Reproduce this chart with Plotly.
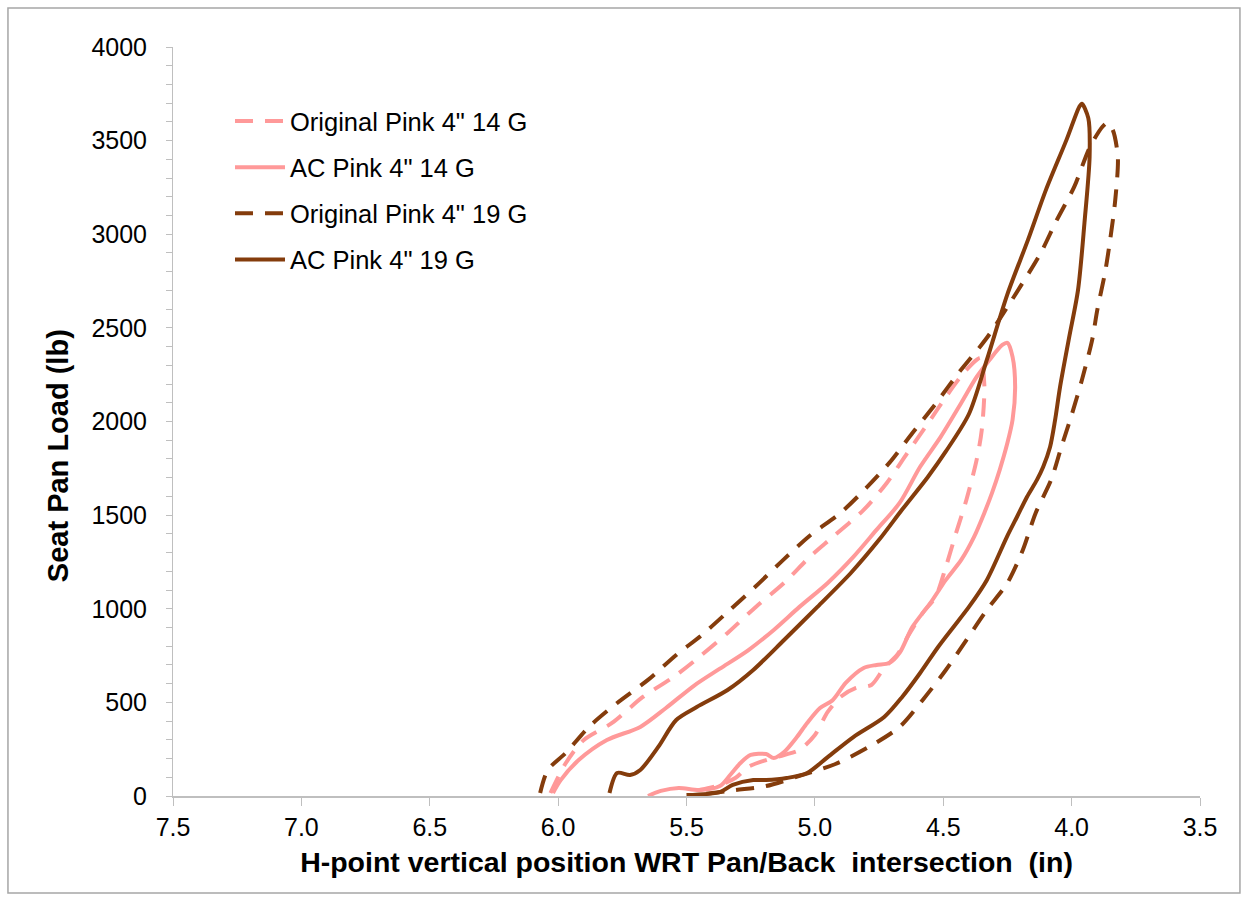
import plotly.graph_objects as go

# ---------------- data ----------------
orig14_x = [6.03, 5.97, 5.90, 5.79, 5.67, 5.55, 5.45, 5.34, 5.23, 5.12, 5.02, 4.93, 4.81, 4.72,
            4.64, 4.55, 4.49, 4.42, 4.37, 4.355, 4.34, 4.35, 4.37, 4.41, 4.45, 4.49, 4.53, 4.58,
            4.63, 4.68, 4.73, 4.78, 4.84, 4.90, 4.95, 5.00, 5.06, 5.12, 5.19, 5.26, 5.31, 5.37, 5.45]
orig14_y = [16, 176, 299, 390, 529, 636, 743, 871, 1010, 1138, 1277, 1384, 1528, 1672,
            1832, 2009, 2131, 2260, 2329, 2340, 2196, 1955, 1795, 1581, 1405, 1223, 1063, 978,
            871, 753, 684, 593, 577, 529, 449, 326, 246, 219, 192, 155, 96, 59, 32]

ac14_x = [6.02, 5.99, 5.92, 5.81, 5.68, 5.58, 5.47, 5.37, 5.26, 5.16, 5.06, 4.95, 4.85, 4.76,
          4.67, 4.59, 4.51, 4.43, 4.37, 4.32, 4.27, 4.25, 4.23, 4.22, 4.23, 4.25, 4.28, 4.31,
          4.34, 4.38, 4.43, 4.49, 4.55, 4.62, 4.67, 4.71, 4.76, 4.81, 4.88, 4.93, 4.98, 5.03,
          5.07, 5.12, 5.16, 5.19, 5.25, 5.29, 5.33, 5.37, 5.45, 5.53, 5.60, 5.65]
ac14_y = [16, 85, 192, 299, 369, 470, 590, 680, 778, 887, 1010, 1138, 1277, 1421,
          1565, 1758, 1918, 2099, 2238, 2329, 2409, 2420, 2345, 2185, 2009, 1886, 1742, 1619,
          1512, 1384, 1261, 1154, 1031, 903, 764, 710, 700, 684, 604, 513, 470, 390,
          315, 235, 203, 224, 219, 176, 112, 53, 32, 43, 27, 0]

orig19_x = [6.07, 6.04, 5.97, 5.88, 5.77, 5.65, 5.54, 5.44, 5.33, 5.23, 5.12, 5.02, 4.90, 4.80,
            4.71, 4.62, 4.53, 4.44, 4.33, 4.20, 4.12, 4.06, 3.99, 3.93, 3.88, 3.86, 3.84, 3.82,
            3.83, 3.85, 3.87, 3.90, 3.92, 3.96, 4.00, 4.04, 4.08, 4.14, 4.19, 4.25, 4.33, 4.41,
            4.49, 4.58, 4.67, 4.79, 4.92, 5.06, 5.19, 5.31, 5.43]
orig19_y = [16, 139, 230, 369, 497, 620, 753, 860, 995, 1120, 1265, 1390, 1512, 1645,
            1779, 1939, 2094, 2260, 2447, 2720, 2901, 3070, 3253, 3462, 3574, 3595, 3558, 3414,
            3184, 2970, 2794, 2596, 2436, 2222, 2035, 1864, 1688, 1512, 1314, 1138, 994, 833,
            673, 513, 369, 262, 171, 107, 53, 32, 11]

ac19_x = [5.80, 5.77, 5.72, 5.68, 5.61, 5.54, 5.46, 5.34, 5.24, 5.12, 4.99, 4.86, 4.75, 4.66,
          4.56, 4.49, 4.40, 4.33, 4.25, 4.17, 4.10, 4.02, 3.97, 3.96, 3.935, 3.93, 3.95, 3.975,
          4.01, 4.045, 4.065, 4.084, 4.111, 4.135, 4.174, 4.213, 4.252, 4.33, 4.40, 4.46, 4.52,
          4.59, 4.66, 4.73, 4.85, 4.95, 5.03, 5.11, 5.19, 5.24, 5.32, 5.37, 5.50]
ac19_y = [16, 123, 112, 139, 262, 406, 475, 566, 673, 833, 1010, 1191, 1368, 1530,
          1704, 1840, 2040, 2330, 2680, 2970, 3237, 3504, 3681, 3697, 3620, 3414, 3061, 2703,
          2447, 2185, 2003, 1864, 1757, 1688, 1597, 1490, 1384, 1154, 1010, 903, 796,
          657, 529, 422, 315, 208, 123, 96, 85, 85, 59, 21, 5]

series_names = ['Original Pink 4" 14 G', 'AC Pink 4" 14 G', 'Original Pink 4" 19 G', 'AC Pink 4" 19 G']
x_ticks = [7.5, 7.0, 6.5, 6.0, 5.5, 5.0, 4.5, 4.0, 3.5]

PINK = "#FF9999"
BROWN = "#843C0C"
FONT = "Liberation Sans, Arial, sans-serif"
DASH = "18px,12px"

series = [
    (orig14_x, orig14_y, PINK, DASH),
    (ac14_x, ac14_y, PINK, "solid"),
    (orig19_x, orig19_y, BROWN, DASH),
    (ac19_x, ac19_y, BROWN, "solid"),
]

fig = go.Figure()
for i, (xs, ys, col, dash) in enumerate(series):
    fig.add_trace(go.Scatter(
        x=xs, y=ys, mode="lines", name=series_names[i], legendgroup=f"g{i}",
        line=dict(color=col, width=4, dash=dash, shape="spline", smoothing=0.8),
    ))

fig.update_layout(
    width=1245, height=904,
    margin=dict(l=173, r=45, t=47, b=108),
    paper_bgcolor="white", plot_bgcolor="white",
    font=dict(family=FONT, size=25, color="#000000"),
    showlegend=True,
    legend=dict(x=0.0555, y=0.932, xanchor="left", yanchor="top",
                bgcolor="rgba(0,0,0,0)", font=dict(size=25.5, family=FONT),
                traceorder="grouped", tracegroupgap=10, itemwidth=50),
    xaxis=dict(
        range=[7.5, 3.5], tickvals=x_ticks, tickformat=".1f",
        showgrid=False, zeroline=False,
        showline=True, linecolor="#BFBFBF", linewidth=2,
        ticks="outside", ticklen=8, tickcolor="#BFBFBF", tickwidth=1,
        tickfont=dict(size=25, family=FONT),
        title=dict(text="<b>H-point vertical position WRT Pan/Back  intersection  (in)</b>",
                   font=dict(size=28.5, family=FONT), standoff=12),
    ),
    yaxis=dict(
        range=[0, 4000], dtick=500,
        showgrid=False, zeroline=False,
        showline=True, linecolor="#BFBFBF", linewidth=1,
        ticks="outside", ticklen=6, tickcolor="#BFBFBF", tickwidth=1,
        minor=dict(dtick=100, ticks="outside", ticklen=6, tickcolor="#BFBFBF", tickwidth=1),
        tickfont=dict(size=25, family=FONT),
        ticklabelstandoff=14,
    ),
)

# y-axis title (placed like the reference, slightly below the axis centre)
fig.add_annotation(text="<b>Seat Pan Load (lb)</b>", xref="paper", yref="paper",
                   x=-0.112, y=0.455, xanchor="center", yanchor="middle",
                   textangle=-90, showarrow=False, font=dict(size=29, family=FONT, color="#000000"))

# outer chart border
fig.add_shape(type="rect", xref="paper", yref="paper",
              x0=-0.1607, x1=1.0389, y0=-0.1295, y1=1.0521,
              line=dict(color="#A6A6A6", width=1.5), fillcolor="rgba(0,0,0,0)", layer="below")

fig.write_html("out.html")
